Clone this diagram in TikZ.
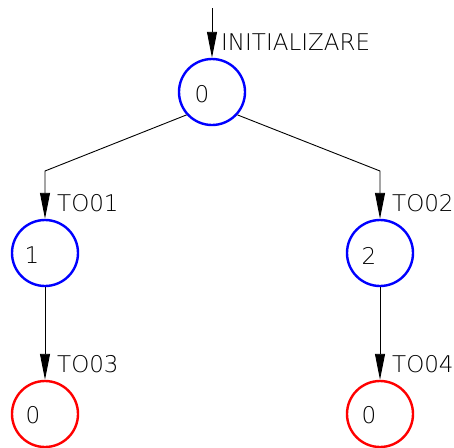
\documentclass[tikz,border=0pt]{standalone}
\usepackage{fontspec}
\setmainfont{DejaVu Sans ExtraLight}
\usetikzlibrary{arrows.meta}
\begin{document}
\begin{tikzpicture}[x=1pt,y=-1pt,
  state/.style={circle,draw=blue,line width=2.4pt,minimum size=66pt,inner sep=0pt},
  fin/.style={state,draw=red},
  txt/.style={font=\fontsize{23}{23}\selectfont,inner sep=0pt},
  lbl/.style={txt,anchor=west},
  con/.style={line width=0.9pt,-{Triangle[length=26pt,width=10pt]}}]
\useasboundingbox (0,0) rectangle (454,447);
\node[state] (s0) at (212,92) {};
\node[state] (s1) at (45,253) {};
\node[state] (s2) at (380,253) {};
\node[fin] (f1) at (45,414) {};
\node[fin] (f2) at (380,414) {};
\node[txt] (d0) at (202,94) {0};
\node[txt] (d1) at (32,255) {1};
\node[txt] (d2) at (369,256) {2};
\node[txt] (d3) at (33,415) {0};
\node[txt] (d4) at (369,415) {0};
\coordinate (in) at (212,8);
\draw[con] (in) -- (s0.north);
\draw[con] (s0.222) -- (s1.north |- 0,171) -- (s1.north);
\draw[con] (s0.-42) -- (s2.north |- 0,171) -- (s2.north);
\draw[con] (s1.south) -- (f1.north);
\draw[con] (s2.south) -- (f2.north);
\node[lbl] (l0) at (221,42) {INITIALIZARE};
\node[lbl] (l1) at (57,203) {TO01};
\node[lbl] (l2) at (392,203) {TO02};
\node[lbl] (l3) at (57,364) {TO03};
\node[lbl] (l4) at (392,364) {TO04};
\end{tikzpicture}
\end{document}
